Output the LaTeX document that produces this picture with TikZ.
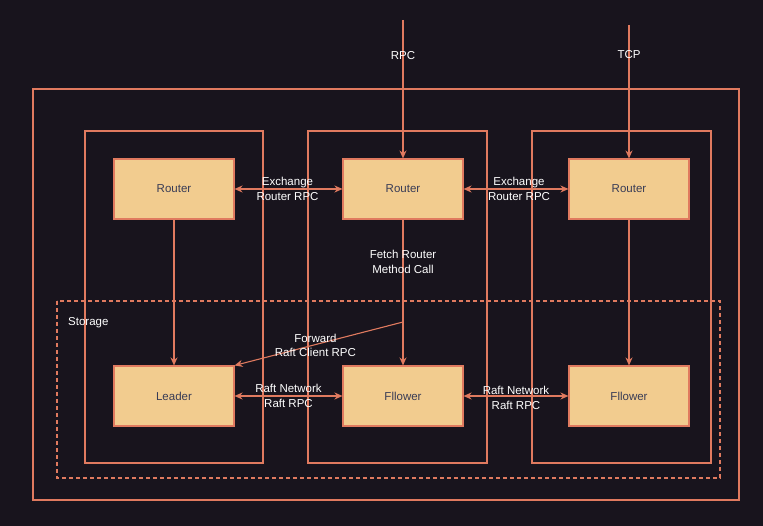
\documentclass[tikz,border=0pt]{standalone}
\usepackage{fontspec}
\setmainfont{Liberation Sans}
\usetikzlibrary{arrows.meta, positioning}
\definecolor{BgDark}{HTML}{18141D}
\definecolor{LineOrange}{HTML}{E07A5F}
\definecolor{BoxFill}{HTML}{F2CC8F}
\definecolor{BoxText}{HTML}{393C56}

\begin{document}
\begin{tikzpicture}[
    x=1pt, y=-1pt,
    >={Stealth[length=8pt,width=7pt]},
    box/.style={
        draw=LineOrange,
        fill=BoxFill,
        line width=1.1pt,
        text=BoxText,
        minimum width=120pt,
        minimum height=60pt,
        inner sep=0pt,
        font=\fontsize{11.5}{13}\selectfont
    },
    frame/.style={
        draw=LineOrange,
        line width=1.1pt
    },
    link/.style={
        draw=LineOrange,
        line width=1.1pt
    },
    lbl/.style={
        text=white,
        align=center,
        inner sep=1pt,
        font=\fontsize{11.5}{14.5}\selectfont
    }
]

% Background
\fill[BgDark] (0,0) rectangle (763,526);
\useasboundingbox (0,0) rectangle (763,526);

% Frames
\draw[frame] (33,89) rectangle (739,500);
\draw[frame] (85,131) rectangle (263,463);
\draw[frame] (308,131) rectangle (487,463);
\draw[frame] (532,131) rectangle (711,463);
\draw[frame, dashed, dash pattern=on 4pt off 3pt] (57,301) rectangle (720,478);
\node[lbl, anchor=west] (storage) at (67,323) {Storage};

% Routers
\node[box] (R1) at (174,189) {Router};
\node[box] (R2) at (403,189) {Router};
\node[box] (R3) at (629,189) {Router};

% Storage nodes
\node[box] (L1) at (174,396) {Leader};
\node[box] (F2) at (403,396) {Fllower};
\node[box] (F3) at (629,396) {Fllower};

% Inputs
\coordinate (rpcin) at (403,20);
\coordinate (tcpin) at (629,25);
\draw[link, ->] (rpcin) -- node[lbl, pos=0.26] {RPC} (R2.north);
\draw[link, ->] (tcpin) -- node[lbl, pos=0.22] {TCP} (R3.north);

% Exchange router
\draw[link, <->] (R1.east) -- node[lbl, xshift=-1pt] {Exchange\\Router RPC} (R2.west);
\draw[link, <->] (R2.east) -- node[lbl, xshift=3pt] {Exchange\\Router RPC} (R3.west);

% Down to storage
\draw[link, ->] (R1.south) -- (L1.north);
\draw[link, ->] (R2.south) -- node[lbl, pos=0.29] {Fetch Router\\Method Call} (F2.north);
\draw[link, ->] (R3.south) -- (F3.north);

% Forward
\coordinate (fwd) at (403,322);
\draw[link, ->] (fwd) -- node[lbl, pos=0.52, yshift=-1pt] {Forward\\Raft Client RPC} (L1.north east);

% Raft network
\draw[link, <->] (L1.east) -- node[lbl] {Raft Network\\Raft RPC} (F2.west);
\draw[link, <->] (F2.east) -- node[lbl, yshift=-2pt] {Raft Network\\Raft RPC} (F3.west);

\end{tikzpicture}
\end{document}
